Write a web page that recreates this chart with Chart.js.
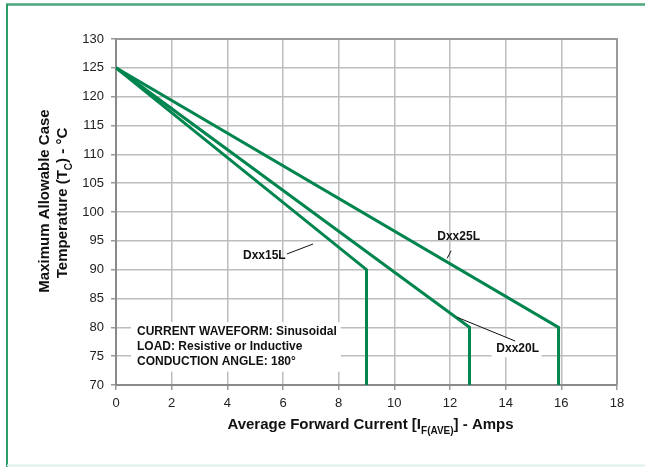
<!DOCTYPE html>
<html>
<head>
<meta charset="utf-8">
<script src="https://cdn.jsdelivr.net/npm/chart.js@4.4.1/dist/chart.umd.min.js"></script>
<style>
  html, body { margin: 0; padding: 0; background: #fff; }
  #wrap { width: 645px; height: 467px; position: relative; }
</style>
</head>
<body>
<div id="wrap"><canvas id="c" width="645" height="467"></canvas></div>
<script>
// ---- data ----
const dxx15X = [0, 9.0, 9.0];
const dxx15Y = [125, 90, 70];
const dxx20X = [0, 12.7, 12.7];
const dxx20Y = [125, 80, 70];
const dxx25X = [0, 15.9, 15.9];
const dxx25Y = [125, 80, 70];
const seriesNames = ['Dxx15L', 'Dxx20L', 'Dxx25L'];
const xTickMin = 0, xTickMax = 18, xTickStep = 2;
const yTickMin = 70, yTickMax = 130, yTickStep = 5;
const noteLines = ['CURRENT WAVEFORM: Sinusoidal', 'LOAD: Resistive or Inductive', 'CONDUCTION ANGLE: 180°'];

function pts(xs, ys) { return xs.map((x, i) => ({ x: x, y: ys[i] })); }

const GREEN = '#00854f';
const FONT = '"Liberation Sans", Arial, Helvetica, sans-serif';

function drawRich(ctx, segs, cx, cy, size, subSize) {
  // measure
  let w = 0;
  segs.forEach(s => {
    ctx.font = 'bold ' + (s.sub ? subSize : size) + 'px ' + FONT;
    s.w = ctx.measureText(s.t).width;
    w += s.w;
  });
  let x = cx - w / 2;
  ctx.textBaseline = 'alphabetic';
  ctx.textAlign = 'left';
  segs.forEach(s => {
    ctx.font = 'bold ' + (s.sub ? subSize : size) + 'px ' + FONT;
    ctx.fillText(s.t, x, cy + (s.sub ? size * 0.35 : 0));
    x += s.w;
  });
}

const decor = {
  id: 'decor',
  beforeDraw(chart) {
    const ctx = chart.ctx;
    ctx.save();
    ctx.fillStyle = '#fff';
    ctx.fillRect(0, 0, chart.width, chart.height);
    ctx.restore();
  },
  afterDraw(chart) {
    const ctx = chart.ctx;
    const xs = chart.scales.x, ys = chart.scales.y;
    const P = (x, y) => [xs.getPixelForValue(x), ys.getPixelForValue(y)];
    const ca = chart.chartArea;
    ctx.save();

    // top/right plot border
    ctx.strokeStyle = '#9a9a9a';
    ctx.lineWidth = 2;
    ctx.beginPath();
    ctx.moveTo(ca.left, ca.top); ctx.lineTo(ca.right, ca.top); ctx.lineTo(ca.right, ca.bottom);
    ctx.stroke();

    // frame
    ctx.strokeStyle = '#4aa77c';
    ctx.lineWidth = 2.5;
    ctx.beginPath(); ctx.moveTo(6, 4.5); ctx.lineTo(chart.width, 4.5); ctx.stroke();
    ctx.strokeStyle = '#2e9d69';
    ctx.lineWidth = 2;
    ctx.beginPath(); ctx.moveTo(7, 4); ctx.lineTo(7, chart.height); ctx.stroke();
    ctx.strokeStyle = '#dcf2ec';
    ctx.beginPath(); ctx.moveTo(7, 465.5); ctx.lineTo(chart.width, 465.5); ctx.stroke();

    ctx.fillStyle = '#111';
    // x title
    drawRich(ctx, [
      { t: 'Average Forward Current [I' },
      { t: 'F(AVE)', sub: true },
      { t: '] - Amps' }
    ], (ca.left + ca.right) / 2 + 4, 429, 15, 10);

    // y title
    ctx.save();
    ctx.translate(0, 0);
    ctx.rotate(-Math.PI / 2);
    drawRich(ctx, [{ t: 'Maximum Allowable Case' }], -201, 48.5, 15, 10);
    drawRich(ctx, [
      { t: 'Temperature (T' },
      { t: 'C', sub: true },
      { t: ') - °C' }
    ], -203, 67, 15, 10);
    ctx.restore();

    // notes box
    ctx.font = 'bold 12px ' + FONT;
    let maxW = 0;
    noteLines.forEach(l => { maxW = Math.max(maxW, ctx.measureText(l).width); });
    const [bx, by] = P(0.54, 80.9);
    const [tx, ty0] = P(0.755, 79.25);
    const [, ty2] = P(0.755, 74.05);
    ctx.fillStyle = '#fff';
    ctx.fillRect(bx, by, (tx - bx) + maxW + 4, (ty2 - by) + 10);
    ctx.fillStyle = '#111';
    ctx.textBaseline = 'middle';
    ctx.textAlign = 'left';
    const step = (ty2 - ty0) / 2;
    noteLines.forEach((l, i) => ctx.fillText(l, tx, ty0 + i * step));

    // series labels with leaders
    ctx.strokeStyle = '#111';
    ctx.lineWidth = 1;
    const leader = (a, b) => {
      const p1 = P(a[0], a[1]), p2 = P(b[0], b[1]);
      ctx.beginPath(); ctx.moveTo(p1[0], p1[1]); ctx.lineTo(p2[0], p2[1]); ctx.stroke();
    };
    ctx.font = 'bold 12px ' + FONT;
    ctx.textAlign = 'center';
    ctx.textBaseline = 'middle';

    // Dxx15L
    leader([6.14, 92.72], [7.08, 94.45]);
    let p = P(5.33, 92.37);
    ctx.fillText(seriesNames[0], p[0], p[1]);

    // Dxx25L
    leader([12.04, 93.29], [11.9, 91.97]);
    p = P(12.31, 95.72);
    ctx.fillText(seriesNames[2], p[0], p[1]);

    // Dxx20L
    p = P(14.43, 76.37);
    ctx.fillStyle = '#fff';
    ctx.fillRect(p[0] - 26, p[1] - 10, 50, 19);
    ctx.fillStyle = '#111';
    leader([12.26, 81.74], [14.34, 77.63]);
    ctx.fillText(seriesNames[1], p[0], p[1]);

    ctx.restore();
  }
};

const lineDs = (label, data) => ({
  label: label,
  data: data,
  showLine: true,
  borderColor: GREEN,
  backgroundColor: GREEN,
  borderWidth: 3,
  pointRadius: 0,
  tension: 0,
  fill: false
});

new Chart(document.getElementById('c'), {
  type: 'scatter',
  data: {
    datasets: [
      lineDs(seriesNames[0], pts(dxx15X, dxx15Y)),
      lineDs(seriesNames[1], pts(dxx20X, dxx20Y)),
      lineDs(seriesNames[2], pts(dxx25X, dxx25Y))
    ]
  },
  options: {
    responsive: false,
    animation: false,
    devicePixelRatio: 1,
    layout: { padding: { left: 0, top: 39, right: 28, bottom: 0 } },
    plugins: { legend: { display: false }, tooltip: { enabled: false }, title: { display: false } },
    scales: {
      x: {
        type: 'linear',
        min: xTickMin, max: xTickMax,
        afterFit: s => { s.height = 82; },
        ticks: { stepSize: xTickStep, color: '#222', font: { family: FONT, size: 13 }, padding: 6, maxRotation: 0 },
        grid: { color: '#bdbdbd', lineWidth: 1.5, tickLength: 5, tickColor: '#999', drawOnChartArea: true },
        border: { color: '#8a8a8a', width: 2 }
      },
      y: {
        type: 'linear',
        min: yTickMin, max: yTickMax,
        afterFit: s => { s.width = 116; },
        ticks: { stepSize: yTickStep, color: '#222', font: { family: FONT, size: 13 }, padding: 7 },
        grid: { color: '#bdbdbd', lineWidth: 1.5, tickLength: 5, tickColor: '#999' },
        border: { color: '#8a8a8a', width: 2 }
      }
    }
  },
  plugins: [decor]
});
</script>
</body>
</html>
